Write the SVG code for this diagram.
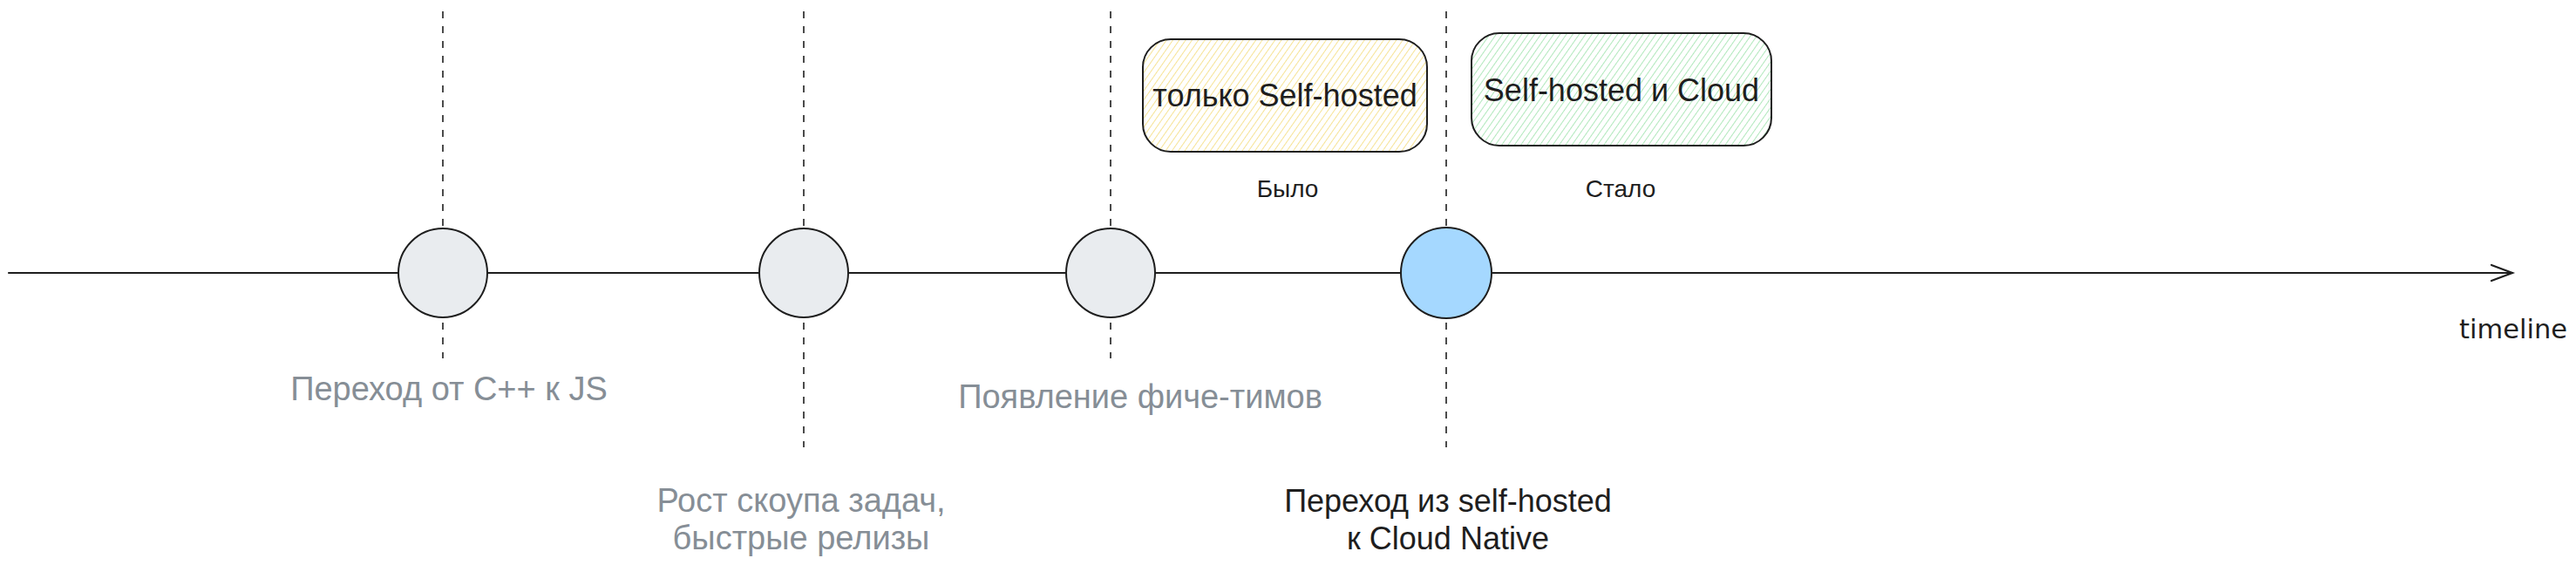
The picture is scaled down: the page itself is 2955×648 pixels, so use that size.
<svg xmlns="http://www.w3.org/2000/svg" width="2955" height="648" viewBox="0 0 2955 648">
  <style>
    .lbl { font-family: "Liberation Sans", Arial, sans-serif; font-size: 36px; text-anchor: middle; }
    .gray { fill: #868e96; font-size: 38px; }
    .dark { fill: #1e1e1e; }
    .small { font-size: 28px; }
    .dash { stroke: #1e1e1e; stroke-width: 1.6; stroke-dasharray: 8 9; fill: none; }
    .dot { stroke: #1e1e1e; stroke-width: 2; }
    .box { stroke: #1e1e1e; stroke-width: 2; }
  </style>
  <defs>
    <pattern id="hatchY" width="6" height="6" patternUnits="userSpaceOnUse" patternTransform="rotate(35)">
      <line x1="0" y1="0" x2="0" y2="6" stroke="#f2d45c" stroke-width="1.3"/>
    </pattern>
    <pattern id="hatchG" width="6" height="6" patternUnits="userSpaceOnUse" patternTransform="rotate(35)">
      <line x1="0" y1="0" x2="0" y2="6" stroke="#86dc97" stroke-width="1.3"/>
    </pattern>
  </defs>
  <rect width="2955" height="648" fill="#ffffff"/>

  <g id="connectors">
    <line class="dash" x1="508" y1="13" x2="508" y2="411"/>
    <line class="dash" x1="922" y1="13" x2="922" y2="513"/>
    <line class="dash" x1="1274" y1="13" x2="1274" y2="411"/>
    <line class="dash" x1="1659" y1="13" x2="1659" y2="513"/>
    <g id="timeline-arrow" stroke="#1e1e1e" stroke-width="2.2" fill="none" stroke-linecap="round">
      <line x1="10" y1="313" x2="2882" y2="313"/>
      <polyline points="2858,304 2882,313 2858,322"/>
    </g>
  </g>

  <g id="event-cpp-js">
    <circle class="dot" cx="508" cy="313" r="51" fill="#e9ecef"/>
    <text class="lbl gray" x="515" y="459">Переход от C++ к JS</text>
  </g>
  <g id="event-scope">
    <circle class="dot" cx="922" cy="313" r="51" fill="#e9ecef"/>
    <text class="lbl gray" x="919" y="587">Рост скоупа задач,</text>
    <text class="lbl gray" x="919" y="630">быстрые релизы</text>
  </g>
  <g id="event-feature-teams">
    <circle class="dot" cx="1274" cy="313" r="51" fill="#e9ecef"/>
    <text class="lbl gray" x="1308" y="468">Появление фиче-тимов</text>
  </g>
  <g id="event-cloud-native">
    <circle class="dot" cx="1659" cy="313" r="52" fill="#a5d8ff"/>
    <text class="lbl dark" x="1661" y="587" font-size="35">Переход из self-hosted</text>
    <text class="lbl dark" x="1661" y="630" font-size="35">к Cloud Native</text>
  </g>

  <g id="box-before">
    <rect class="box" x="1311" y="45" width="326" height="129" rx="32" fill="url(#hatchY)"/>
    <text class="lbl dark" x="1474" y="122">только Self-hosted</text>
    <text class="lbl dark small" x="1477" y="226">Было</text>
  </g>
  <g id="box-after">
    <rect class="box" x="1688" y="38" width="344" height="129" rx="32" fill="url(#hatchG)"/>
    <text class="lbl dark" x="1860" y="116">Self-hosted и Cloud</text>
    <text class="lbl dark small" x="1859" y="226">Стало</text>
  </g>

  <g id="timeline-label">
    <text class="dark" x="2821" y="388" font-family="'DejaVu Sans', sans-serif" font-size="30" textLength="124" lengthAdjust="spacingAndGlyphs">timeline</text>
  </g>
</svg>
